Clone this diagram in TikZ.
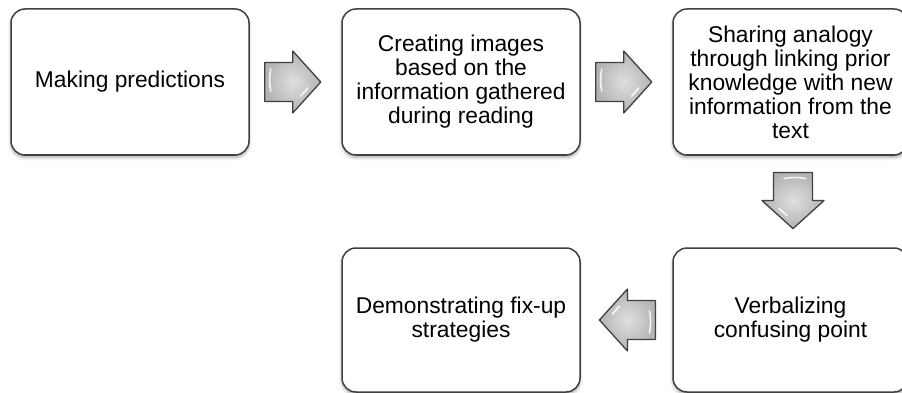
\documentclass[tikz,border=0pt]{standalone}
\usepackage{fontspec}
\setmainfont{Liberation Sans}
\usetikzlibrary{calc,shadows.blur}

\begin{document}
\begin{tikzpicture}[x=1pt,y=-1pt,
  stepbox/.style={draw=black!75, line width=1.5pt, rounded corners=14pt, fill=white,
    font=\fontsize{22.8}{24}\selectfont, align=center, inner sep=3pt,
    blur shadow={shadow xshift=0pt, shadow yshift=-2.5pt, shadow blur radius=3pt, shadow opacity=35}},
  arrowbody/.style={draw=black!75, line width=1.3pt, line join=round,
    inner color=gray!25, outer color=gray!60},
  gloss/.style={draw=white, line width=1.6pt, line cap=round, opacity=0.85},
  blockarrow/.pic={
    \path[arrowbody] (-28,-19.5) -- (0,-19.5) -- (0,-31) -- (28,0) -- (0,31)
      -- (0,19.5) -- (-28,19.5) -- cycle;
    \draw[gloss] (-22,-13) to[bend right=10] (-22,9);
    \draw[gloss] (15,6) -- (8,14);
  }]
  \clip (0,0) rectangle (902,393);

  % the five steps
  \node[stepbox, minimum width=238pt, minimum height=146pt] (b1) at (130,82)
    {Making predictions};
  \node[stepbox, minimum width=238pt, minimum height=146pt] (b2) at (461,82)
    {Creating images\\based on the\\information gathered\\during reading};
  \node[stepbox, minimum width=235pt, minimum height=146pt] (b3) at (790.5,82)
    {Sharing analogy\\through linking prior\\knowledge with new\\information from the\\text};
  \node[stepbox, minimum width=235pt, minimum height=144pt] (b4) at (790.5,320)
    {Verbalizing\\confusing point};
  \node[stepbox, minimum width=238pt, minimum height=144pt] (b5) at (461,320)
    {Demonstrating fix-up\\strategies};

  % block arrows between the steps
  \coordinate (a1) at ($(b1.east)!0.47!(b2.west)$);
  \coordinate (a2) at ($(b2.east)!0.47!(b3.west)$);
  \coordinate (a3) at ($(b3.south)!0.49!(b4.north)+(2.5,0)$);
  \coordinate (a4) at ($(b5.east)!0.51!(b4.west)$);
  \pic at (a1) {blockarrow};
  \pic at (a2) {blockarrow};
  \pic[rotate=-90] at (a3) {blockarrow};
  \pic[rotate=180] at (a4) {blockarrow};
\end{tikzpicture}
\end{document}
